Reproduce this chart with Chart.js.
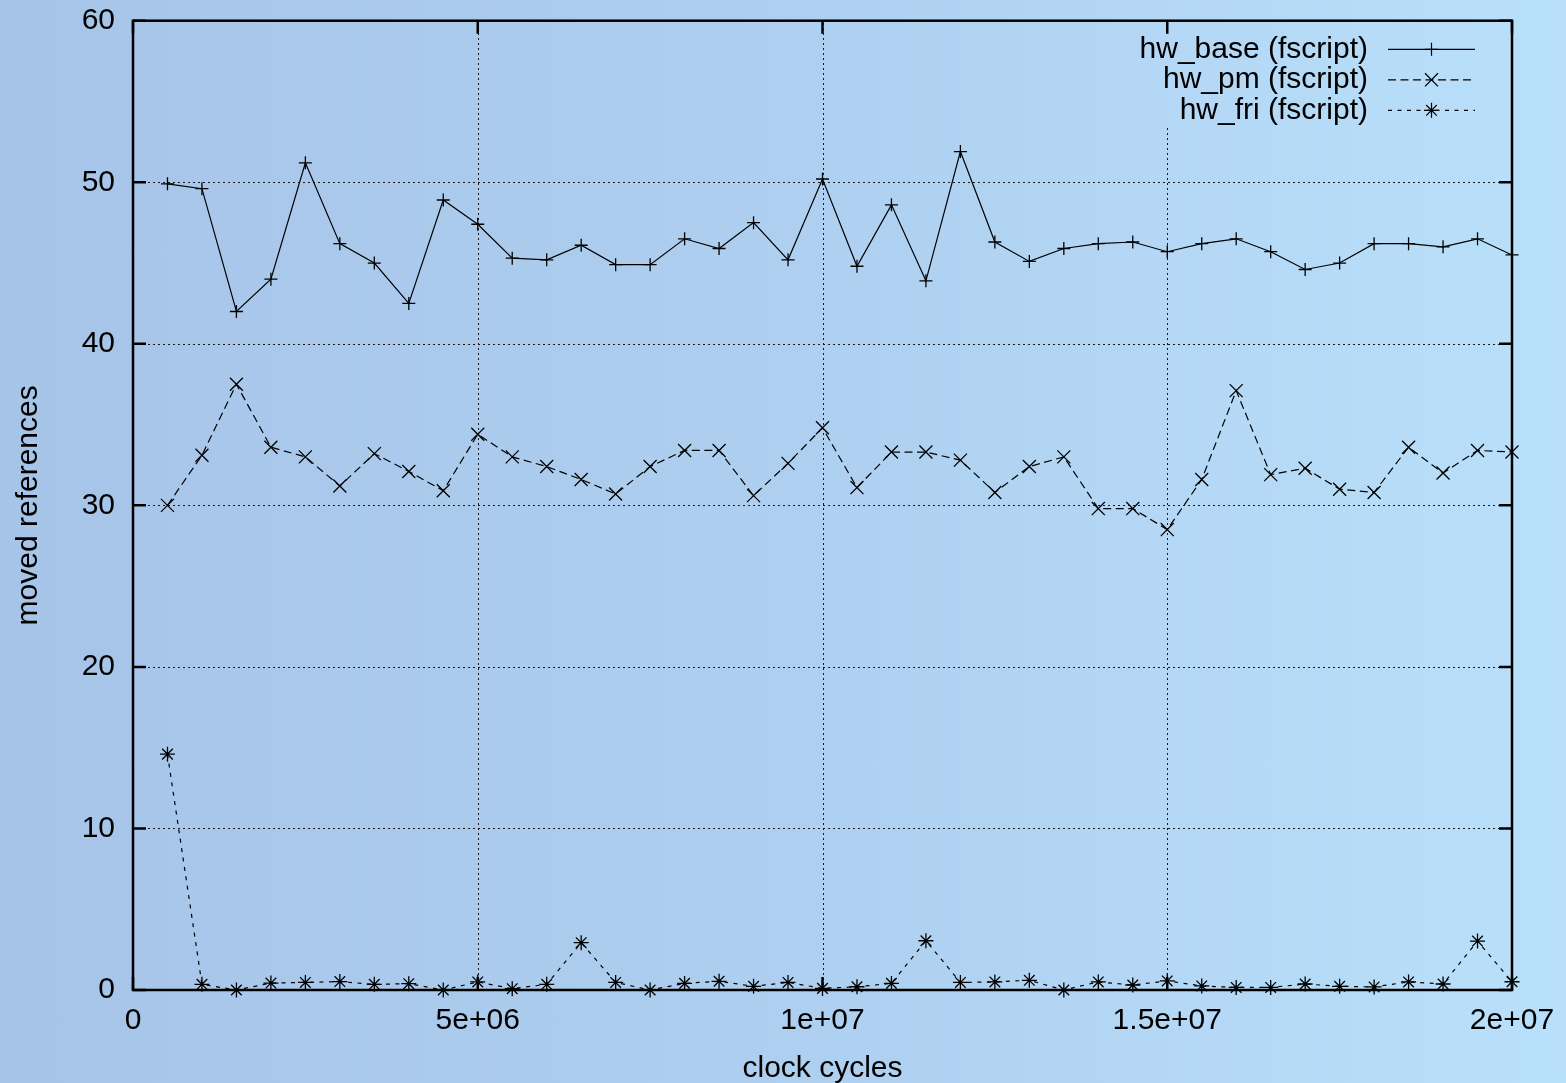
<!DOCTYPE html>
<html>
<head>
<meta charset="utf-8">
<title>moved references</title>
<script src="https://cdn.jsdelivr.net/npm/chart.js@4/dist/chart.umd.min.js"></script>
<style>
  html, body {
    margin: 0; padding: 0; width: 1566px; height: 1083px; overflow: hidden;
    background: linear-gradient(to right, #a6c4e8 0%, #aecff0 50%, #b9e0fa 100%);
  }
  #wrap { position: relative; width: 1566px; height: 1083px; }
  canvas { display: block; }
</style>
</head>
<body>
<div id="wrap"><canvas id="chart" width="1566" height="1083"></canvas></div>
<script>
// Sample positions (clock cycles)
const cycles = [
  500000, 1000000, 1500000, 2000000, 2500000, 3000000, 3500000, 4000000, 4500000, 5000000,
  5500000, 6000000, 6500000, 7000000, 7500000, 8000000, 8500000, 9000000, 9500000, 10000000,
  10500000, 11000000, 11500000, 12000000, 12500000, 13000000, 13500000, 14000000, 14500000, 15000000,
  15500000, 16000000, 16500000, 17000000, 17500000, 18000000, 18500000, 19000000, 19500000, 20000000
];

// Moved references per series
const hwBase = [
  49.9, 49.6, 42.0, 44.0, 51.2, 46.2, 45.0, 42.5, 48.9, 47.4,
  45.3, 45.2, 46.1, 44.9, 44.9, 46.5, 45.9, 47.5, 45.2, 50.2,
  44.8, 48.6, 43.9, 51.9, 46.3, 45.1, 45.9, 46.2, 46.3, 45.7,
  46.2, 46.5, 45.7, 44.6, 45.0, 46.2, 46.2, 46.0, 46.5, 45.5
];
const hwPm = [
  30.0, 33.1, 37.5, 33.6, 33.0, 31.2, 33.2, 32.1, 30.9, 34.4,
  33.0, 32.4, 31.6, 30.7, 32.4, 33.4, 33.4, 30.6, 32.6, 34.8,
  31.1, 33.3, 33.3, 32.8, 30.8, 32.4, 33.0, 29.8, 29.8, 28.5,
  31.6, 37.1, 31.9, 32.3, 31.0, 30.8, 33.6, 32.0, 33.4, 33.3
];
const hwFri = [
  14.6, 0.35, 0.0, 0.43, 0.47, 0.52, 0.35, 0.39, 0.0, 0.5,
  0.08, 0.35, 2.93, 0.47, 0.0, 0.41, 0.54, 0.23, 0.47, 0.1,
  0.2, 0.41, 3.05, 0.47, 0.5, 0.6, 0.0, 0.5, 0.31, 0.56,
  0.25, 0.16, 0.16, 0.37, 0.23, 0.19, 0.5, 0.37, 3.03, 0.51
];

const seriesLabels = ['hw_base (fscript)', 'hw_pm (fscript)', 'hw_fri (fscript)'];

// Axis ticks
const xTickValues = [0, 5000000, 10000000, 15000000, 20000000];
const xTickLabels = ['0', '5e+06', '1e+07', '1.5e+07', '2e+07'];
const yTickValues = [0, 10, 20, 30, 40, 50, 60];
const yTickLabels = ['0', '10', '20', '30', '40', '50', '60'];

const FONT = '"Liberation Sans", Arial, Helvetica, sans-serif';
Chart.defaults.font.family = FONT;
Chart.defaults.font.size = 30;
Chart.defaults.color = '#000';

const toPoints = (ys) => cycles.map((c, i) => ({ x: c, y: ys[i] }));

// Legend geometry, measured from the plot area's top-right corner
const KEY = { textRight: -144, lineStart: -124, lineEnd: -37, firstRow: 28.6, rowStep: 30.5 };

// Dotted grid behind the data; vertical lines stop under the key
const gridPlugin = {
  id: 'dottedGrid',
  beforeDatasetsDraw(chart) {
    const { ctx, chartArea: a, scales: { x, y } } = chart;
    const keyBottom = a.top + KEY.firstRow + KEY.rowStep * (chart.data.datasets.length - 1) + 17;
    const keyLeft = a.right + KEY.textRight - 240;
    ctx.save();
    ctx.strokeStyle = '#1a1a1a';
    ctx.lineWidth = 1;
    ctx.setLineDash([2, 3]);
    y.ticks.forEach(t => {
      const py = Math.round(y.getPixelForValue(t.value)) + 0.5;
      if (py <= a.top + 2 || py >= a.bottom - 2) return;
      ctx.beginPath(); ctx.moveTo(a.left, py); ctx.lineTo(a.right, py); ctx.stroke();
    });
    x.ticks.forEach(t => {
      const px = Math.round(x.getPixelForValue(t.value)) + 0.5;
      if (px <= a.left + 2 || px >= a.right - 2) return;
      const top = px > keyLeft ? keyBottom : a.top;
      ctx.beginPath(); ctx.moveTo(px, a.bottom); ctx.lineTo(px, top); ctx.stroke();
    });
    ctx.restore();
  },
  afterDatasetsDraw(chart) {
    // Frame and inward tick marks on all four sides
    const { ctx, chartArea: a, scales: { x, y } } = chart;
    const len = 13;
    ctx.save();
    ctx.strokeStyle = '#000';
    ctx.lineWidth = 2.5;
    ctx.setLineDash([]);
    ctx.strokeRect(a.left, a.top, a.right - a.left, a.bottom - a.top);
    ctx.beginPath();
    y.ticks.forEach(t => {
      const py = y.getPixelForValue(t.value);
      ctx.moveTo(a.left, py); ctx.lineTo(a.left + len, py);
      ctx.moveTo(a.right, py); ctx.lineTo(a.right - len, py);
    });
    x.ticks.forEach(t => {
      const px = x.getPixelForValue(t.value);
      ctx.moveTo(px, a.bottom); ctx.lineTo(px, a.bottom - len);
      ctx.moveTo(px, a.top); ctx.lineTo(px, a.top + len);
    });
    ctx.stroke();
    ctx.restore();
  }
};

// Key in the top-right corner: label, line sample and marker
const keyPlugin = {
  id: 'seriesKey',
  afterDatasetsDraw(chart) {
    const { ctx, chartArea: a } = chart;
    chart.data.datasets.forEach((ds, i) => {
      const yy = a.top + KEY.firstRow + i * KEY.rowStep;
      const x0 = a.right + KEY.lineStart, x1 = a.right + KEY.lineEnd;
      ctx.save();
      ctx.font = '30px ' + FONT;
      ctx.fillStyle = '#000';
      ctx.textAlign = 'right';
      ctx.textBaseline = 'middle';
      ctx.fillText(ds.label, a.right + KEY.textRight, yy);
      ctx.strokeStyle = ds.borderColor;
      ctx.lineWidth = ds.borderWidth;
      ctx.setLineDash(ds.borderDash || []);
      ctx.beginPath(); ctx.moveTo(x0, yy); ctx.lineTo(x1, yy); ctx.stroke();
      ctx.setLineDash([]);
      ctx.strokeStyle = ds.pointBorderColor;
      Chart.helpers.drawPoint(ctx, {
        pointStyle: ds.pointStyle, radius: ds.pointRadius,
        borderWidth: ds.pointBorderWidth, rotation: 0
      }, (x0 + x1) / 2, yy);
      ctx.restore();
    });
  }
};

const common = {
  borderColor: '#000',
  pointBorderColor: '#000',
  pointBackgroundColor: 'rgba(0,0,0,0)',
  borderWidth: 1.2,
  pointBorderWidth: 1.3,
  tension: 0,
  fill: false,
  clip: false
};

new Chart(document.getElementById('chart'), {
  type: 'line',
  data: {
    datasets: [
      Object.assign({}, common, {
        label: seriesLabels[0], data: toPoints(hwBase),
        pointStyle: 'cross', pointRadius: 6.5, borderDash: []
      }),
      Object.assign({}, common, {
        label: seriesLabels[1], data: toPoints(hwPm),
        pointStyle: 'crossRot', pointRadius: 9.2, borderDash: [8, 4.5]
      }),
      Object.assign({}, common, {
        label: seriesLabels[2], data: toPoints(hwFri),
        pointStyle: 'star', pointRadius: 7.5, borderDash: [4, 5.5]
      })
    ]
  },
  options: {
    responsive: false,
    animation: false,
    events: [],
    layout: { padding: { top: 20.7, right: 54, bottom: 0, left: 0 } },
    plugins: { legend: { display: false }, tooltip: { enabled: false } },
    scales: {
      x: {
        type: 'linear',
        min: 0, max: 20000000,
        afterBuildTicks: s => { s.ticks = xTickValues.map(v => ({ value: v })); },
        afterFit: s => { s.height = 93; s.paddingLeft = 0; s.paddingRight = 0; },
        grid: { display: false, drawTicks: false },
        border: { display: false },
        ticks: {
          padding: 13,
          maxRotation: 0,
          autoSkip: false,
          font: { size: 30, lineHeight: 1.2 },
          callback: v => { const i = xTickValues.indexOf(v); return i >= 0 ? xTickLabels[i] : ''; }
        },
        title: {
          display: true, text: 'clock cycles',
          font: { size: 30, lineHeight: 1 }, padding: { top: 0, bottom: -1 }
        }
      },
      y: {
        type: 'linear',
        min: 0, max: 60,
        afterBuildTicks: s => { s.ticks = yTickValues.map(v => ({ value: v })); },
        afterFit: s => { s.width = 133; s.paddingTop = 0; s.paddingBottom = 0; },
        grid: { display: false, drawTicks: false },
        border: { display: false },
        ticks: {
          padding: 18,
          autoSkip: false,
          font: { size: 30, lineHeight: 1.2 },
          callback: v => { const i = yTickValues.indexOf(v); return i >= 0 ? yTickLabels[i] : ''; }
        },
        title: {
          display: true, text: 'moved references',
          font: { size: 30, lineHeight: 1 }, padding: { top: 14, bottom: 0 }
        }
      }
    }
  },
  plugins: [gridPlugin, keyPlugin]
});
</script>
</body>
</html>
